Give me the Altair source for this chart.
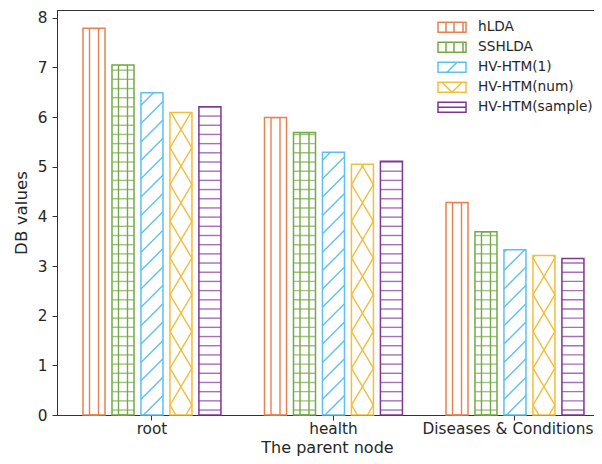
import altair as alt
import pandas as pd

categories = ["root", "health", "Diseases & Conditions"]
series = ["hLDA", "SSHLDA", "HV-HTM(1)", "HV-HTM(num)", "HV-HTM(sample)"]
colors = ["#E8804F", "#72AA45", "#5CC1EC", "#F3BD3D", "#7E3596"]

values_hLDA = [7.79, 5.99, 4.28]
values_SSHLDA = [7.05, 5.69, 3.69]
values_HV1 = [6.49, 5.29, 3.33]
values_num = [6.09, 5.05, 3.21]
values_sample = [6.21, 5.11, 3.15]

y_ticks = [0, 1, 2, 3, 4, 5, 6, 7, 8]

# legend symbol glyphs (hatched boxes)
legend_paths = [
    "M-1.4,-0.5H1.4V0.5H-1.4Z M-0.6,-0.5V0.5 M0.2,-0.5V0.5 M1.1,-0.5V0.5",
    "M-1.4,-0.5H1.4V0.5H-1.4Z M-0.6,-0.5V0.5 M0.2,-0.5V0.5 M1.1,-0.5V0.5",
    "M-1.4,-0.5H1.4V0.5H-1.4Z M-0.5,0.5L0.5,-0.5",
    "M-1.4,-0.5H1.4V0.5H-1.4Z M-1.0,-0.5L0,0.5L1.0,-0.5",
    "M-1.4,-0.5H1.4V0.5H-1.4Z M-1.4,0H1.4",
]

all_values = [values_hLDA, values_SSHLDA, values_HV1, values_num, values_sample]
rows = []
for s, vals in zip(series, all_values):
    for c, v in zip(categories, vals):
        rows.append({"cat": c, "series": s, "value": v})
df = pd.DataFrame(rows)
legend_df = pd.DataFrame({"series": series})

TXT = "#262626"
FONT = "DejaVu Sans"
YMAX = 8.156

x_enc = alt.X(
    "cat:N", sort=categories,
    scale=alt.Scale(paddingInner=0.24, paddingOuter=0.1076, align=0.6656),
    axis=alt.Axis(
        title="The parent node", labelAngle=0, tickSize=5, labelPadding=1, titlePadding=3,
        titleFontSize=16,
        labelOffset={"condition": {"test": "datum.value == 'Diseases & Conditions'", "value": -7},
                     "value": 0},
    ),
)
xo_enc = alt.XOffset("series:N", sort=series, scale=alt.Scale(paddingInner=0.24, paddingOuter=0))
yscale = alt.Scale(domain=[0, YMAX], nice=False, zero=True)
y_axis_enc = alt.Y(
    "value:Q", scale=yscale,
    axis=alt.Axis(title="DB values", values=y_ticks, tickSize=5, labelPadding=5, titlePadding=7),
)
y_plain = alt.Y("value:Q", scale=yscale, axis=None)
col_scale = alt.Scale(domain=series, range=colors)
c_enc = alt.Color("series:N", scale=col_scale, legend=None)

base = alt.Chart(df).encode(x=x_enc, xOffset=xo_enc, color=c_enc)

# vertical hatch lines (hLDA '|', SSHLDA '+')
vert = base.transform_filter(
    alt.FieldOneOfPredicate(field="series", oneOf=["hLDA", "SSHLDA"])
).mark_bar(filled=False, width=9, strokeWidth=1.4).encode(y=y_plain)

# horizontal hatch lines (SSHLDA '+', sample '-')
horiz = base.transform_filter(
    alt.FieldOneOfPredicate(field="series", oneOf=["SSHLDA", "HV-HTM(sample)"])
).transform_calculate(
    hy="sequence(0.1, datum.value, 0.185)"
).transform_flatten(["hy"]).mark_tick(orient="horizontal", size=22, thickness=1.4).encode(
    y=alt.Y("hy:Q", scale=yscale, axis=None)
)

# diagonal hatch '/'
diag = base.transform_filter(
    alt.FieldEqualPredicate(field="series", equal="HV-HTM(1)")
).transform_calculate(
    dy="sequence(-0.2, datum.value + 0.3, 0.37)"
).transform_flatten(["dy"]).mark_point(
    shape="M-1,1L1,-1", size=484, filled=False, strokeWidth=1.4, opacity=1, clip=True
).encode(y=alt.Y("dy:Q", scale=yscale, axis=None))

# cross hatch 'x'
cross = base.transform_filter(
    alt.FieldEqualPredicate(field="series", equal="HV-HTM(num)")
).transform_calculate(
    dy="sequence(-0.17, datum.value + 0.5, 0.74)"
).transform_flatten(["dy"]).mark_point(
    shape="M-0.595,-1L0.595,1M-0.595,1L0.595,-1", size=1369, filled=False,
    strokeWidth=1.4, opacity=1, clip=True
).encode(y=alt.Y("dy:Q", scale=yscale, axis=None))

# white cover above each bar to trim hatch overflow
cover = base.mark_bar(strokeWidth=0, width=25).encode(
    y=y_plain, y2=alt.datum(YMAX - 0.02), color=alt.value("white")
)

outline = base.mark_bar(filled=False, strokeWidth=1.5).encode(y=y_axis_enc)

# legend drawn as marks (hatched boxes + labels) in the top-right corner
leg_y = alt.Y("series:N", sort=series,
              scale=alt.Scale(type="point", domain=series, range=[17.3, 97.3], padding=0),
              axis=None)
leg_sym = alt.Chart(legend_df).mark_point(
    filled=False, strokeWidth=1.5, opacity=1, size=400
).encode(
    x=alt.value(395), y=leg_y,
    shape=alt.Shape("series:N", scale=alt.Scale(domain=series, range=legend_paths), legend=None),
    color=c_enc,
)
leg_txt = alt.Chart(legend_df).mark_text(
    align="left", baseline="middle", font=FONT, fontSize=13.7, color=TXT
).encode(x=alt.value(421), y=leg_y, text="series:N")

chart = alt.layer(vert, horiz, diag, cross, cover, outline, leg_sym, leg_txt).resolve_scale(
    y="independent"
).properties(
    width=540, height=405,
    autosize=alt.AutoSizeParams(type="none"),
    padding={"left": 49, "top": 2, "right": -3, "bottom": 41},
).configure_view(stroke="#333333", strokeWidth=1).configure_axis(
    labelFont=FONT, titleFont=FONT, labelFontSize=15.3, titleFontSize=16.7,
    labelColor=TXT, titleColor=TXT, titleFontWeight="normal",
    domainColor="#333333", tickColor="#333333", domainWidth=1, tickWidth=1, grid=False,
)

chart.save("out.html", embed_options={"renderer": "svg", "actions": False})
